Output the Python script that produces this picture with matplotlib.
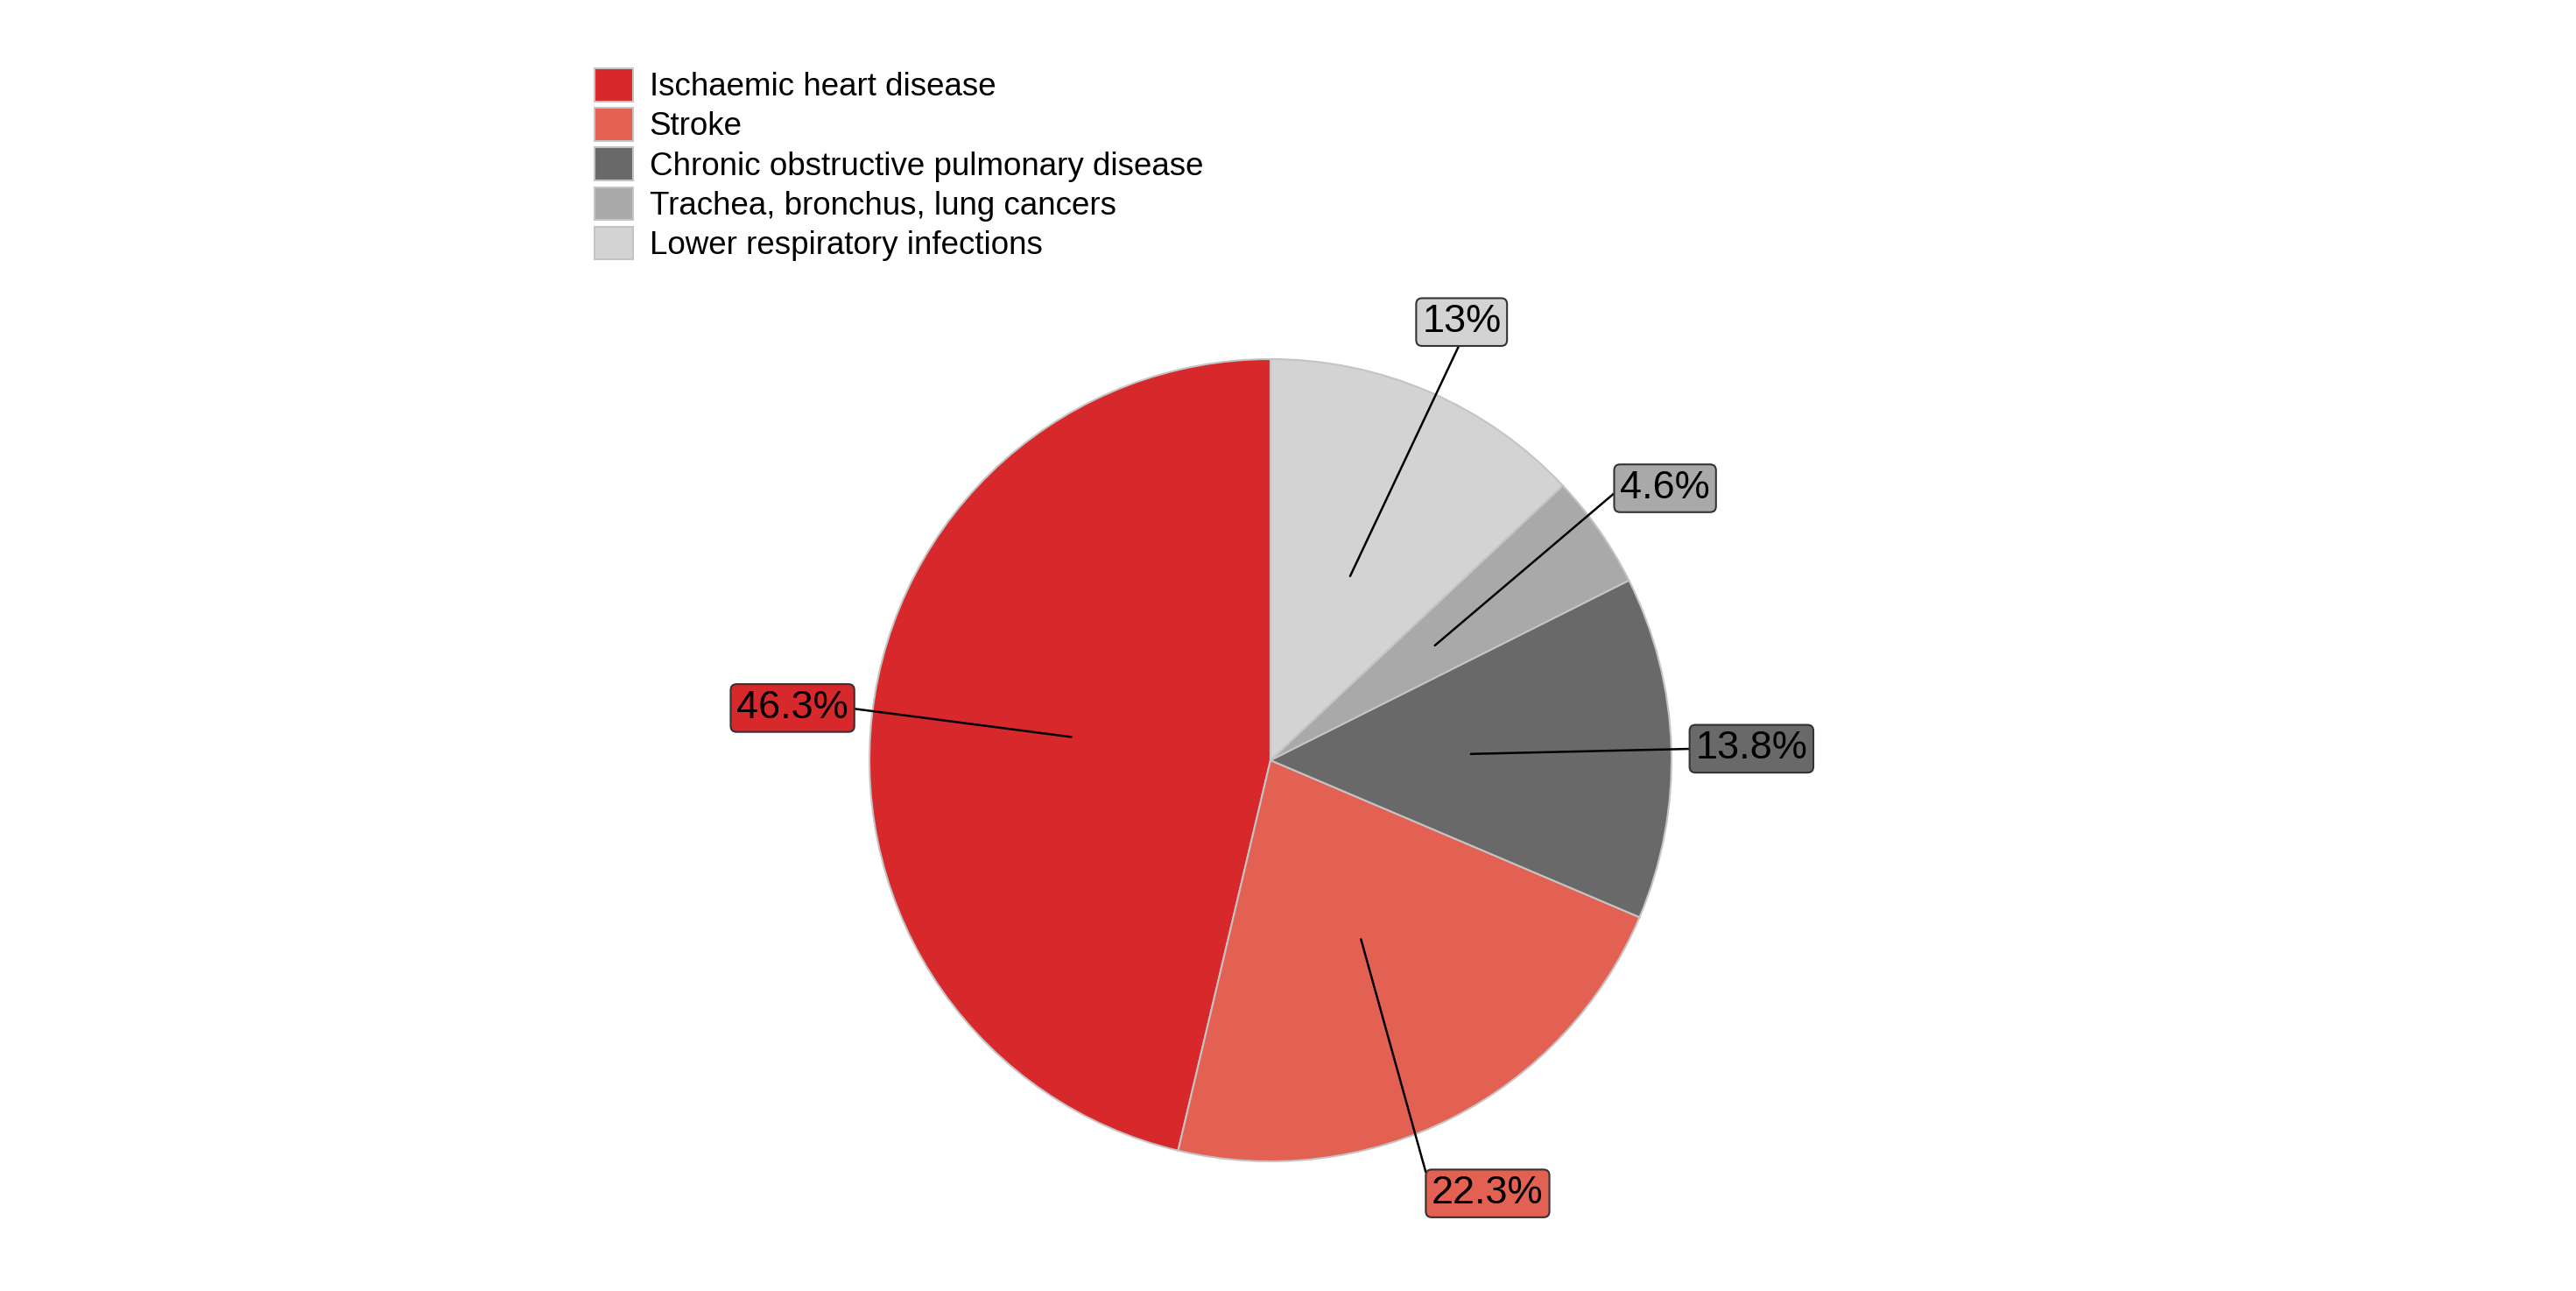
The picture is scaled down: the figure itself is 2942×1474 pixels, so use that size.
import numpy as np
import matplotlib.pyplot as plt
from matplotlib.patches import Patch

plt.rcParams['font.family'] = ['Liberation Sans', 'DejaVu Sans']

causes = ['Ischaemic heart disease', 'Stroke', 'Chronic obstructive pulmonary disease',
          'Trachea, bronchus, lung cancers', 'Lower respiratory infections']
shares = [46.3, 22.3, 13.8, 4.6, 13.0]
pct_labels = ['46.3%', '22.3%', '13.8%', '4.6%', '13%']
colors = ['#d7292c', '#e26152', '#696969', '#a9a9a9', '#d3d3d3']

W, H = 2942, 1474
fig = plt.figure(figsize=(W / 100, H / 100), dpi=100)

# pie centre and radius in pixels
cx, cy, r = 1451, 868, 458
lim = 1.35
span = 2 * lim * r
ax = fig.add_axes([(cx - span / 2) / W, (H - cy - span / 2) / H, span / W, span / H])

wedges, _ = ax.pie(shares, colors=colors, startangle=90, counterclock=True,
                   wedgeprops=dict(edgecolor='#c4c4c4', linewidth=1.5))
ax.set_xlim(-lim, lim)
ax.set_ylim(-lim, lim)


def label(lab, col, xy, xytext, relpos=(0.5, 0.5)):
    return ax.annotate(lab, xy=xy, xytext=xytext,
                       ha='center', va='center', fontsize=32.5, color='black',
                       bbox=dict(boxstyle='round,pad=0.15,rounding_size=0.15',
                                 facecolor=col, edgecolor='#333333', linewidth=1.5),
                       arrowprops=dict(arrowstyle='-', color='black', lw=1.8,
                                       shrinkA=0, shrinkB=0, relpos=relpos),
                       annotation_clip=False)


fig.canvas.draw()
for w, lab, col in zip(wedges, pct_labels, colors):
    ang = np.deg2rad((w.theta1 + w.theta2) / 2)
    x, y = np.cos(ang), np.sin(ang)
    xy, xytext = (0.5 * x, 0.5 * y), (1.2 * x, 1.2 * y - 0.009)
    # measure the box, then hook the connector to the middle of its nearest side
    tmp = label(lab, col, xy, xytext)
    fig.canvas.draw()
    bb = tmp.get_bbox_patch().get_window_extent()
    tmp.remove()
    px, py = ax.transData.transform(xy)
    sides = {(0, 0.5): (bb.x0, (bb.y0 + bb.y1) / 2),
             (1, 0.5): (bb.x1, (bb.y0 + bb.y1) / 2),
             (0.5, 0): ((bb.x0 + bb.x1) / 2, bb.y0),
             (0.5, 1): ((bb.x0 + bb.x1) / 2, bb.y1)}
    rel = min(sides, key=lambda k: np.hypot(sides[k][0] - px, sides[k][1] - py))
    label(lab, col, xy, xytext, rel)

handles = [Patch(facecolor=c, edgecolor='#c4c4c4', linewidth=1.5) for c in colors]
fig.legend(handles, causes, loc='upper left', bbox_to_anchor=(679 / W, 1 - 78 / H),
           frameon=False, fontsize=26.5, handlelength=1.2, handleheight=1.2,
           handletextpad=0.5, labelspacing=0.16, borderpad=0, borderaxespad=0)

fig.savefig('out.png', dpi=100, facecolor='white')
